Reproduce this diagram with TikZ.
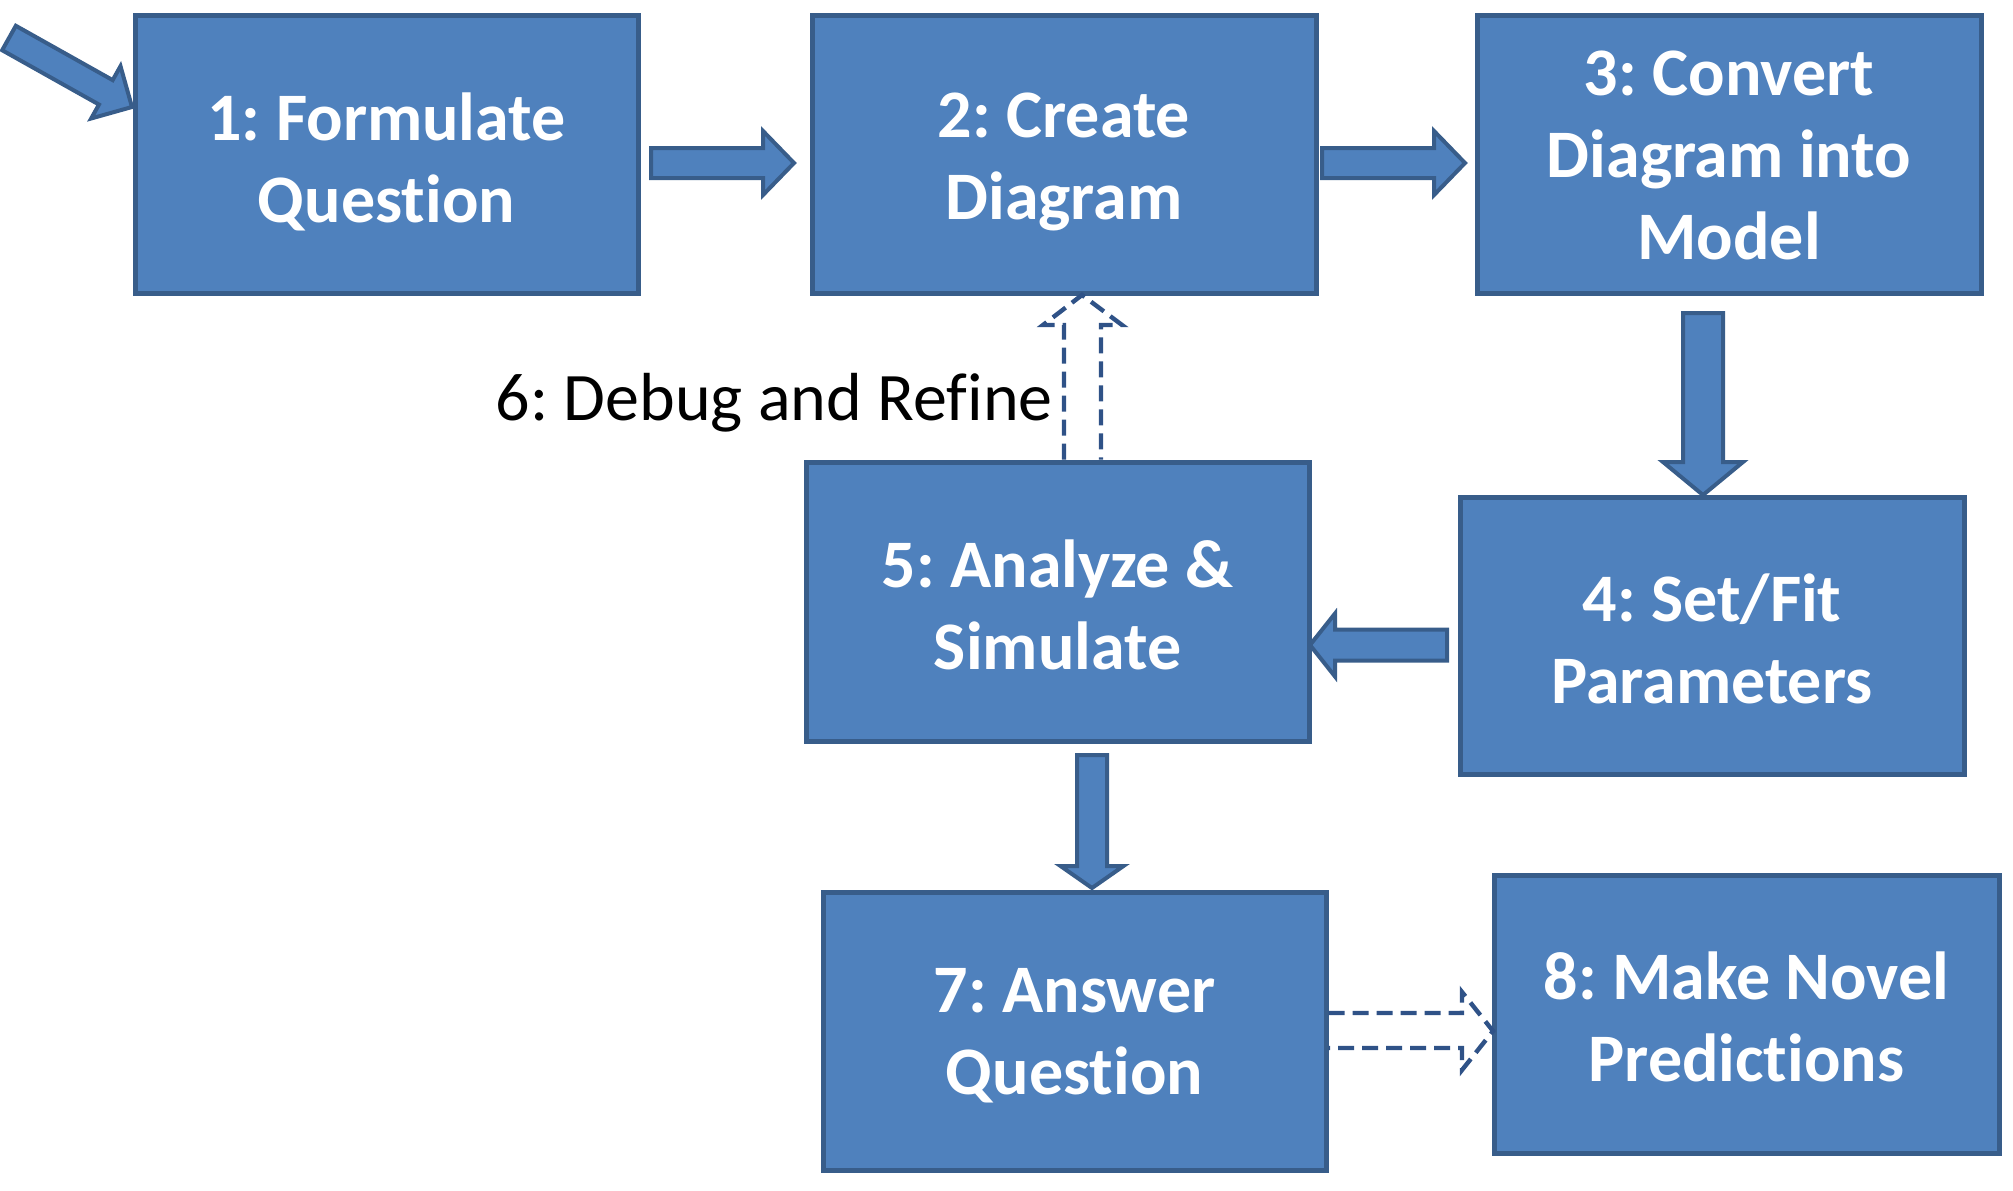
\documentclass[tikz,border=0pt]{standalone}
\usepackage{fontspec}
\setmainfont{Carlito}[Ligatures=NoCommon]
\usetikzlibrary{calc}
\definecolor{boxfill}{RGB}{79,129,189}
\definecolor{boxedge}{RGB}{56,93,138}
\definecolor{dashblue}{RGB}{47,82,135}
\tikzset{
  box/.style={draw=boxedge, fill=boxfill, line width=2.5pt, rectangle, inner sep=0pt},
  boxtext/.style={text=white, align=center, inner sep=0pt,
    font=\frenchspacing\bfseries\fontsize{34pt}{41pt}\selectfont},
  blockarr/.style={draw=boxedge, fill=boxfill, line width=2pt, line join=miter},
  dasharr/.style={draw=dashblue, line width=2.2pt, dash pattern=on 8pt off 4pt, line join=miter},
  lbl/.style={font=\frenchspacing\fontsize{34pt}{41pt}\selectfont, inner sep=0pt}
}
% #1 start, #2 end, #3 shaft half width, #4 head half width, #5 head length
\newcommand\blockarrow[5]{%
  \path[blockarr]
    ($(#1)!#3!-90:(#2)$) --
    ($($(#2)!#5!(#1)$)!#3!-90:(#2)$) --
    ($($(#2)!#5!(#1)$)!#4!-90:(#2)$) --
    (#2) --
    ($($(#2)!#5!(#1)$)!#4!90:(#2)$) --
    ($($(#2)!#5!(#1)$)!#3!90:(#2)$) --
    ($(#1)!#3!90:(#2)$) -- cycle;}
\begin{document}
\begin{tikzpicture}[x=0.5pt,y=-0.5pt]
\useasboundingbox (0,0) rectangle (2013,1190);
\node[box, minimum width=251.5pt, minimum height=139pt] (b1) at (386.5,154) {};
\node[box, minimum width=252pt, minimum height=139pt] (b2) at (1064,154) {};
\node[box, minimum width=252pt, minimum height=139pt] (b3) at (1729,154) {};
\node[box, minimum width=252pt, minimum height=138.5pt] (b4) at (1712,635.5) {};
\node[box, minimum width=251.5pt, minimum height=139.5pt] (b5) at (1057.5,601.5) {};
\node[box, minimum width=251.5pt, minimum height=139pt] (b7) at (1074.5,1031) {};
\node[box, minimum width=252.5pt, minimum height=139pt] (b8) at (1746.5,1014) {};
\node[boxtext, yshift=-4pt] (t1) at (b1.center) {1: Formulate\\Question};
\node[boxtext, yshift=-4pt] (t2) at (b2.center) {2: Create\\Diagram};
\node[boxtext, yshift=-0.5pt] (t3) at (b3.center) {3: Convert\\Diagram into\\Model};
\node[boxtext, yshift=-1.5pt] (t4) at (b4.center) {4: Set/Fit\\Parameters};
\node[boxtext, yshift=-1.5pt] (t5) at (b5.center) {5: Analyze \&\\Simulate};
\node[boxtext, yshift=-2.5pt] (t7) at (b7.center) {7: Answer\\Question};
\node[boxtext, yshift=-1.5pt] (t8) at (b8.center) {8: Make Novel\\Predictions};
\node[lbl, anchor=base east] (l6) at (1053,420) {6: Debug and Refine};
% block arrows
\coordinate (a0s) at (9,38);     \coordinate (a0e) at (132,107);
\coordinate (a12s) at (651,163); \coordinate (a12e) at (794,163);
\coordinate (a23s) at (1322,163);\coordinate (a23e) at (1465,163);
\coordinate (a34s) at (1703,313);\coordinate (a34e) at (1703,495);
\coordinate (a45s) at (1447,645);\coordinate (a45e) at (1310,645);
\coordinate (a57s) at (1092,755);\coordinate (a57e) at (1092,888);
\blockarrow{a0s}{a0e}{7pt}{15pt}{15pt}
\blockarrow{a12s}{a12e}{7.5pt}{16pt}{15.5pt}
\blockarrow{a23s}{a23e}{7.5pt}{16pt}{15.5pt}
\blockarrow{a34s}{a34e}{10pt}{20pt}{16.5pt}
\blockarrow{a45s}{a45e}{7.75pt}{15.75pt}{12.5pt}
\blockarrow{a57s}{a57e}{7.5pt}{15.75pt}{11pt}
% dashed arrows
\draw[dasharr] (b5.north -| 1064,0) -- (1064,325) -- (1043,325) -- (1082,295) -- (1122,325) -- (1101,325) -- (b5.north -| 1101,0);
\draw[dasharr] (b7.east |- 0,1013) -- (1462,1013) -- (1462,992) -- (1493,1031) -- (1462,1070) -- (1462,1048) -- (b7.east |- 0,1048);
\end{tikzpicture}
\end{document}
